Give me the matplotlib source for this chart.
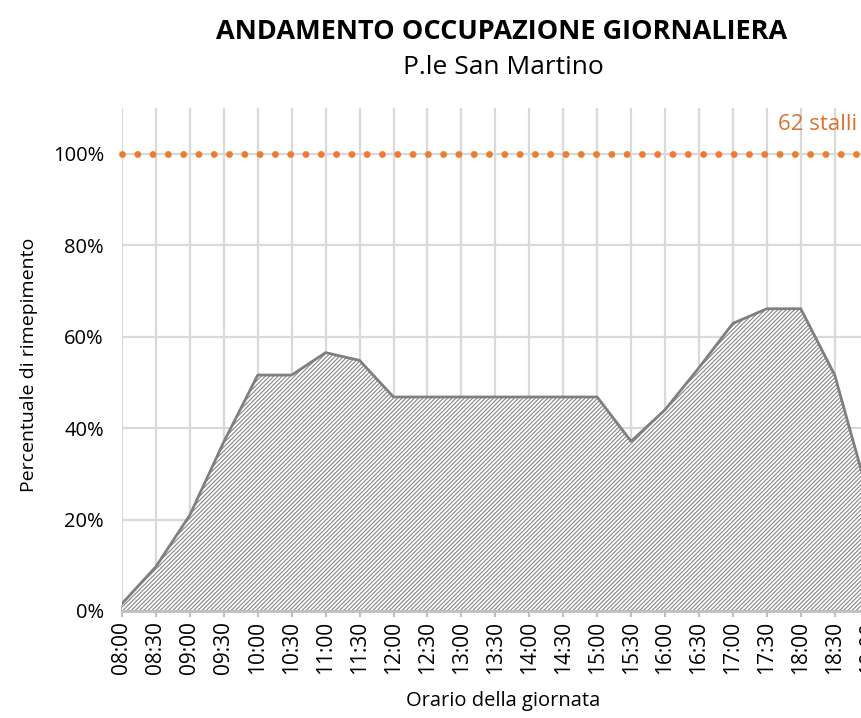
import numpy as np
import matplotlib.pyplot as plt
from matplotlib.ticker import FuncFormatter

plt.rcParams['font.family'] = ['Open Sans', 'DejaVu Sans']
plt.rcParams['hatch.linewidth'] = 0.8
plt.rcParams['lines.scale_dashes'] = False

orari = ['08:00', '08:30', '09:00', '09:30', '10:00', '10:30', '11:00', '11:30',
         '12:00', '12:30', '13:00', '13:30', '14:00', '14:30', '15:00', '15:30',
         '16:00', '16:30', '17:00', '17:30', '18:00', '18:30', '19:00']
occupazione = [0.016, 0.097, 0.21, 0.37, 0.516, 0.516, 0.565, 0.548,
               0.468, 0.468, 0.468, 0.468, 0.468, 0.468, 0.468, 0.371,
               0.44, 0.532, 0.629, 0.661, 0.661, 0.516, 0.25]
capienza = [1.0] * len(orari)
stalli = 62

fig = plt.figure(figsize=(8.62, 7.18), dpi=100)
# axes run a bit past the right edge, as in the original (19:00 is cut)
ax_w = 0.878
ax = fig.add_axes([122 / 862, 107 / 718, ax_w, 503 / 718])

x = np.arange(len(orari))
ax.fill_between(x, occupazione, 0, facecolor='white', edgecolor='#858585',
                hatch='////////', linewidth=0, zorder=2)
ax.plot(x, occupazione, color='#7f7f7f', linewidth=2, zorder=3)

ax.plot(x, capienza, color='#ED7D31', linewidth=5,
        linestyle=(0, (0.01, 11)), dash_capstyle='round', zorder=4, clip_on=False)
ax.text(21.65, 1.063, '%d stalli' % stalli, color='#D9732C', fontsize=16,
        ha='right', va='center')

ax.set_xlim(0, 22.3)
ax.set_ylim(0, 1.1)
ax.set_xticks(x)
ax.set_xticklabels(orari, rotation=90, fontsize=15)
ax.set_yticks([0, 0.2, 0.4, 0.6, 0.8, 1.0])
ax.yaxis.set_major_formatter(FuncFormatter(lambda v, p: '%d%%' % round(v * 100)))
ax.tick_params(axis='y', length=0, labelsize=14.5, pad=13)
ax.tick_params(axis='x', direction='inout', length=8, width=1.5,
               color='#bfbfbf', pad=3)

ax.grid(True, color='#d9d9d9', linewidth=1.6, zorder=0)
ax.set_axisbelow(True)
for s in ['top', 'right', 'left']:
    ax.spines[s].set_visible(False)
ax.spines['bottom'].set_color('#bfbfbf')
ax.spines['bottom'].set_linewidth(2)
ax.spines['bottom'].set_zorder(5)

ax.set_xlabel('Orario della giornata', fontsize=14.5)
ax.set_ylabel('Percentuale di rimepimento', fontsize=14)
ax.xaxis.set_label_coords((503 - 122) / (ax_w * 862), -0.16)
ax.yaxis.set_label_coords(-(122 - 38) / (ax_w * 862), 0.49)

fig.text(502 / 862, 1 - 32 / 718, 'ANDAMENTO OCCUPAZIONE GIORNALIERA',
         fontsize=19.5, fontweight='bold', ha='center', va='center')
fig.text(503 / 862, 1 - 68 / 718, 'P.le San Martino', fontsize=19,
         ha='center', va='center')

fig.savefig('out.png', dpi=100)
